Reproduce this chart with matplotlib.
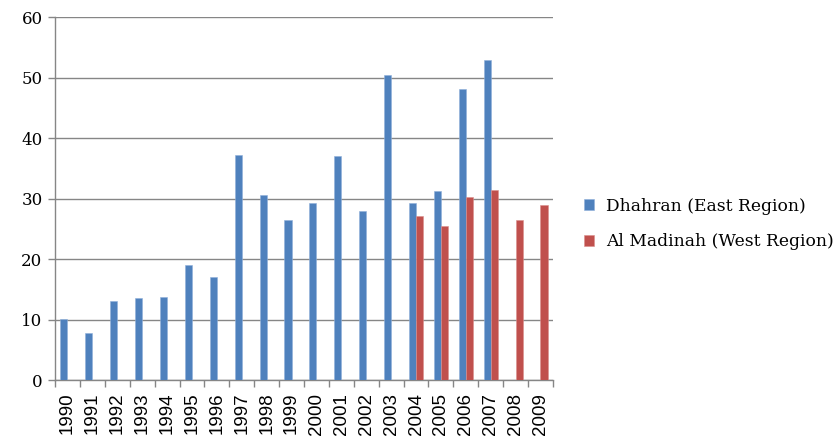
import numpy as np
import matplotlib
matplotlib.use('Agg')
import matplotlib.pyplot as plt

# data
years = [str(y) for y in range(1990, 2010)]
dhahran = [10.1, 7.8, 13.1, 13.6, 13.7, 19.0, 17.1, 37.2, 30.6, 26.5,
           29.2, 37.1, 27.9, 50.5, 29.2, 31.2, 48.1, 52.9, np.nan, np.nan]
madinah = [np.nan] * 14 + [27.1, 25.5, 30.2, 31.5, 26.4, 28.9]
labels = ['Dhahran (East Region)', 'Al Madinah (West Region)']

blue = '#4F81BD'
red = '#C0504D'
grey = '#868686'

fig = plt.figure(figsize=(8.34, 4.4), dpi=100)
ax = fig.add_axes([0.066, 0.136, 0.597, 0.825])

x = np.arange(len(years))
w = 1 / 3.5
ax.bar(x - w / 2, dhahran, w, color=blue, edgecolor='#8FB0DA', linewidth=0.4, label=labels[0], zorder=3)
ax.bar(x + w / 2, madinah, w, color=red, edgecolor='#DA8E8C', linewidth=0.4, label=labels[1], zorder=3)

ax.set_xlim(-0.5, len(years) - 0.5)
ax.set_ylim(0, 60)
ax.set_yticks(range(0, 61, 10))
ax.yaxis.grid(True, color=grey, linewidth=1.0, zorder=0)

# year labels in the middle, tick marks on the category edges
ax.set_xticks(x)
ax.set_xticklabels(years, rotation=90, fontfamily='Liberation Sans', fontsize=13.5)
ax.set_xticks(np.arange(-0.5, len(years)), minor=True)
ax.tick_params(axis='x', which='major', length=0, pad=9)
ax.tick_params(axis='x', which='minor', length=5, color=grey, width=1)
ax.tick_params(axis='y', length=5, color=grey, width=1, pad=4)
for t in ax.get_yticklabels():
    t.set_fontfamily('DejaVu Serif')
    t.set_fontsize(12)

for s in ['top', 'right']:
    ax.spines[s].set_visible(False)
for s in ['left', 'bottom']:
    ax.spines[s].set_color(grey)
    ax.spines[s].set_linewidth(1)

ax.legend(loc='center left', bbox_to_anchor=(1.032, 0.43), frameon=False,
          prop={'family': 'DejaVu Serif', 'size': 12.3}, handlelength=0.6,
          handleheight=0.6, handletextpad=0.7, labelspacing=1.1)

fig.savefig('out.png', dpi=100)
